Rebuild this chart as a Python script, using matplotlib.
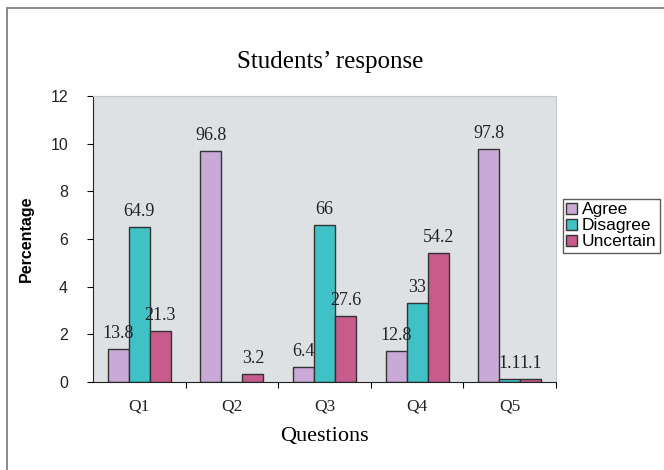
import numpy as np
import matplotlib.pyplot as plt
from matplotlib.patches import Rectangle

questions = ['Q1', 'Q2', 'Q3', 'Q4', 'Q5']
agree = [13.8, 96.8, 6.4, 12.8, 97.8]
disagree = [64.9, 0, 66, 33, 1.1]
uncertain = [21.3, 3.2, 27.6, 54.2, 1.1]
series_names = ['Agree', 'Disagree', 'Uncertain']
colors = ['#c9aad6', '#3fc1c6', '#c75b8c']

fig = plt.figure(figsize=(6.64, 4.7), dpi=100)
fig.patches.append(Rectangle((7 / 664, -0.05), 1.0, 1.05 - 8 / 470, transform=fig.transFigure,
                             fill=False, edgecolor='#777777', linewidth=1.2))

ax = fig.add_axes([93 / 664, 1 - 382 / 470, 463 / 664, 286 / 470])
ax.set_facecolor('#dde1e4')

x = np.arange(len(questions))
w = 0.227
serif = 'Liberation Serif'
sans = 'Liberation Sans'

for i, (vals, name, c) in enumerate(zip([agree, disagree, uncertain], series_names, colors)):
    heights = np.array(vals) / 10.0
    xs = x + (i - 1) * w
    ax.bar(xs, heights, width=w, color=c, edgecolor='#333333', linewidth=1.0, label=name)
    for xi, h, v in zip(xs, heights, vals):
        if v == 0:
            continue
        ax.text(xi, h + 0.3, f'{v:g}', ha='center', va='bottom', fontsize=13,
                family=serif, color='#222222')

ax.set_xlim(-0.5, 4.5)
ax.set_ylim(0, 12)
ax.set_yticks(range(0, 13, 2))
ax.tick_params(axis='y', labelsize=11.5, length=4, direction='out', pad=14)
for lab in ax.get_yticklabels():
    lab.set_family(sans)
    lab.set_color('#222222')

ax.set_xticks(np.arange(0.5, 5, 1))
ax.set_xticklabels([])
ax.set_xticks(x, minor=True)
ax.set_xticklabels(questions, minor=True, fontsize=12.5, family=serif, color='#222222')
ax.tick_params(axis='x', which='major', length=4, direction='out')
ax.tick_params(axis='x', which='minor', length=0, pad=12)

for s in ['top', 'right']:
    ax.spines[s].set_color('#c8c8c8')
ax.spines['left'].set_color('#222222')
ax.spines['bottom'].set_color('#222222')

ax.set_ylabel('Percentage', fontsize=11.5, family=sans, fontweight='bold', labelpad=12)
ax.set_xlabel('Questions', fontsize=16, family=serif, labelpad=9)
fig.text(330 / 664, 1 - 62 / 470, 'Students\u2019 response', ha='center', va='center',
         fontsize=18, family=serif)

leg = fig.legend(loc='upper left', bbox_to_anchor=(563 / 664, 1 - 199 / 470),
                 prop={'family': sans, 'size': 12.5}, frameon=True, fancybox=False,
                 edgecolor='#333333', handlelength=0.6, handleheight=0.6,
                 handletextpad=0.3, borderpad=0.2, labelspacing=0.05, borderaxespad=0)
leg.get_frame().set_linewidth(1.0)

fig.savefig('out.png', dpi=100)
